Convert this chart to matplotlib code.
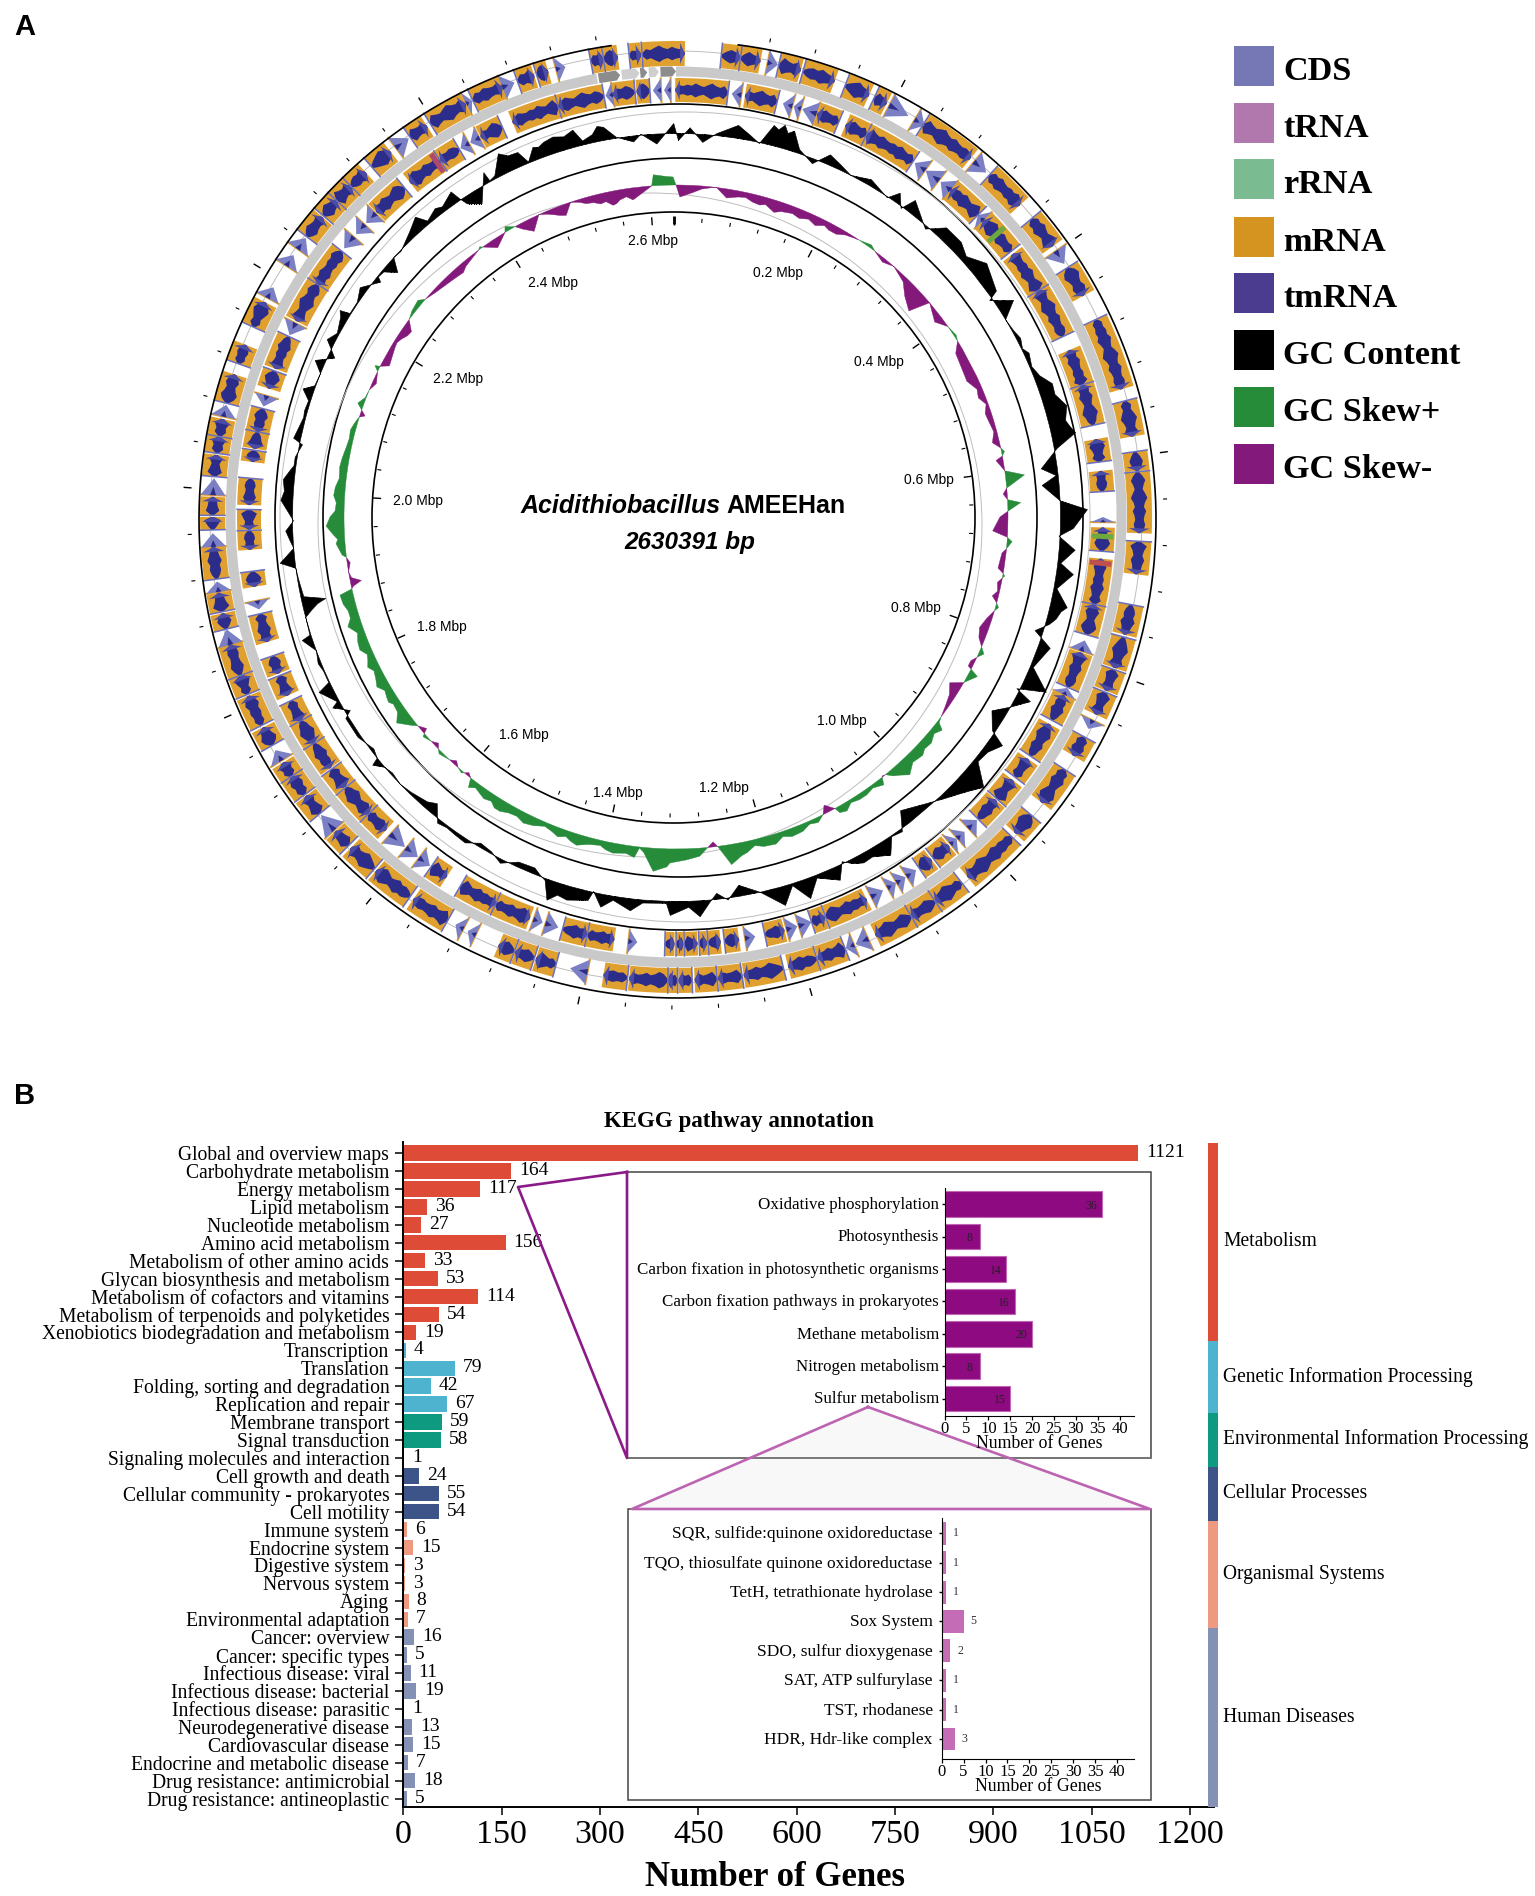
"""Figura: mapa circular do genoma (A) e anotacao KEGG (B)."""
import matplotlib
matplotlib.use("Agg")
import matplotlib.pyplot as plt
import numpy as np
from matplotlib.patches import Ellipse, Polygon, Rectangle
from matplotlib.transforms import ScaledTranslation

W, H = 1535, 1896
SANS = "Liberation Sans"
SERIF = "Liberation Serif"

# --- painel A: dados ---------------------------------------------------------
GENOME_BP = 2630391
TICK_STEP_MBP = 0.04

# blocos de genes (graus a partir do topo, sentido horario)
outer_start = [349.4, 351, 354.2, 355.8, 5.6, 8, 12.8, 15.9, 21.4, 25.3, 32.2, 42.5, 50, 57.5, 64.8,
               75.5, 81.9, 84.4, 93, 100.9, 105, 109.2, 112.2, 118.3, 123, 130, 133.6, 142, 146, 149.5,
               158.6, 162.3, 166.6, 171.8, 174.9, 178, 179.8, 181, 186, 195, 197.8, 200.4, 209.5, 215,
               220.6, 224.9, 230.2, 233.2, 236, 240.5, 243.3, 247.5, 250, 256, 258.2, 262.3, 268.4,
               270.2, 275, 277.9, 280, 284.2, 289.3, 294.2, 307.2, 310.5, 313, 315.5, 319, 325, 328,
               334, 340, 342.5]
outer_end = [351, 352.8, 355.7, 361.1, 8, 10.5, 15.6, 20, 24.6, 27, 39.4, 47.8, 54.3, 61.5, 74,
             80, 84.3, 92, 97.1, 104.7, 109, 112, 115.2, 121, 128, 133, 141, 146, 149.5, 154.5,
             162.2, 166, 171.6, 174.8, 177.7, 179.7, 181, 185.8, 189, 197.6, 200.3, 202.5, 214.5, 220.3,
             224.5, 227.3, 233, 236, 238, 243, 247.3, 250, 254, 258, 260.6, 266.3, 270,
             272.5, 277.7, 280, 282.2, 287.9, 291.8, 297.6, 310.3, 313, 315.5, 318, 322, 327.5, 333,
             338, 342.2, 344]
outer_thin_start = [11.4, 27.4, 31, 40, 55, 116, 155.5, 157.4, 191, 205.6, 207.3, 227.5, 238.3, 254,
                    260.7, 266.3, 272.7, 282.5, 298.2, 302.8, 305.3, 322.8, 333.1, 338, 345]
outer_thin_end = [12.7, 30.1, 32.4, 42, 56.9, 117.2, 157.2, 158.5, 193.2, 206.7, 208.4, 230, 239.8, 256,
                  262, 268, 274.8, 284, 299.7, 304.4, 307, 324.8, 333.9, 339.6, 346.2]

lower_start = [351.5, 354.7, 359.9, 9.3, 19.3, 23.4, 26.5, 40, 46, 52, 58, 67, 72, 79.5, 83.8, 91.4,
               95.6, 101.8, 108.5, 114.7, 119, 124.5, 128, 131.5, 140.3, 143.3, 153.5, 159.6, 165.3,
               171.5, 174, 175.8, 177.1, 179, 180.2, 188.3, 192, 200, 205, 212.5, 222.8, 226, 230.8,
               234, 238, 241.5, 245.3, 248.5, 253, 260.6, 265.6, 268.3, 271.6, 277.4, 279.2, 281.5,
               287.5, 290.3, 297.3, 303, 315.5, 321.5, 326.5, 332.8, 337.5, 344]
lower_end = [354.5, 356.5, 367, 13.7, 22.4, 26.5, 33.7, 45, 51.6, 58, 65, 72, 77.6, 82.6, 86.6, 94.6,
             101.8, 106, 113.5, 118.4, 124, 127.5, 131.3, 135, 143, 145.3, 159.5, 161.5, 168,
             173.5, 175.7, 176.9, 178.9, 180, 181.5, 192, 195.4, 205, 210.3, 215, 226, 230.7, 233.8,
             238, 241.5, 244.5, 248.2, 251, 256.9, 262.7, 268.2, 271, 275.2, 279, 281.5, 284.7,
             290, 295, 303, 308.5, 320.5, 326.5, 329.5, 336, 344, 350.3]
lower_thin_start = [356.9, 358.4, 7.5, 14.5, 16, 17.2, 34, 35.8, 38.3, 45, 90, 106.8, 113.6, 135.2,
                    137.5, 138.9, 145.8, 147.5, 149, 151, 161.5, 163.5, 169.3, 185.2, 196, 198.2,
                    215.2, 217.2, 219.4, 257.5, 285, 295.2, 309, 311.5, 313.5, 329.7, 331.2, 350.5]
lower_thin_end = [358, 359.3, 8.8, 15.8, 17, 19.2, 35.7, 38, 40, 46, 90.7, 108.3, 114.6, 136.8,
                  138.8, 140, 147.3, 148.9, 150.3, 152.8, 163.3, 165, 170.7, 186.4, 197.8, 199.5,
                  217, 219.2, 222, 258.7, 286.5, 297, 311, 313.2, 315.3, 331, 332.6, 351.5]

# genes em cinza no inicio da faixa central
band_start = [350, 353, 355.4, 356.5, 358]
band_end = [352.8, 355.3, 356.3, 357.8, 360]
band_shade = ["#8C8C8C", "#CFCFCF", "#8C8C8C", "#CFCFCF", "#8C8C8C"]

# GC content: angulo e altura (px) em relacao a linha de base
gc_deg = [0.3, 2, 4, 6, 9, 12.5, 14, 17, 18.5, 21, 23, 25, 27, 30, 33.4, 34.6, 36, 37, 40.8, 43, 46, 48,
          50.7, 54.7, 55.3, 57.2, 59, 65, 70.4, 74, 78, 79.7, 82.4, 83.7, 85, 87.5, 88.9, 91.6, 92.8,
          94.7, 96.8, 98.2, 100.6, 103, 106, 107.5, 109.3, 112.8, 115.3, 116.7, 117.5, 119.6, 121.5,
          124, 125, 129, 131.3, 136.5, 142.6, 144.3, 146, 147.6, 152.9, 154.3, 155.7, 158.7, 160.6,
          162.5, 164.3, 167.4, 170.4, 172.3, 173.9, 175, 176.6, 178.2, 180.9, 181.5, 185, 186.7, 189.4,
          191, 192.5, 193, 198.7, 199.9, 202, 204.6, 207, 211, 213, 215, 218, 219.9, 221.2, 226, 229.4,
          230.8, 231.2, 232.6, 235.4, 238.7, 239.4, 241, 241.5, 243.9, 244.6, 246.5, 249.7, 251.8,
          252.2, 254.9, 257, 258, 262.4, 263.4, 265.4, 268, 269.5, 272.5, 277, 277.7, 279, 281, 281.7,
          285, 287.6, 289, 290, 292, 293.5, 295, 297, 298.5, 300.8, 301.6, 302, 304, 306, 308.5, 308.9,
          311.3, 312.6, 314, 317, 319, 320, 323, 325.3, 325.8, 326.3, 328.2, 330.8, 331, 332, 333.9,
          335, 336.5, 337.4, 338.8, 342, 345, 346, 349.4, 351, 353.5, 354.7, 357, 359.6, 360.3]
gc_height = [-7, 6, -8, 2, 13, -1, 20, 20, 4, -5, 10, 5, 0, 6, -1, 10, -2, 13, -3, 12, 12, 6,
             17, 8, -3, 17, 0, 5, 15, 22, 24, 3, -16, -2, -17, 0, 27, 13, -1,
             16, 3, 17, 3, 17, 4, -8, 12, 3, 25, -3, 15, 0, -14,
             -3, 14, 4, 25, 4, -15, 3, 1, 16, 5, -2, 14, 3, 20,
             2, 19, 0, -11, 2, -6, 2, 16, 6, 14, 2, 3, 12, 4,
             13, -1, 9, 20, 2, -6, -5, 4, -4, 4, 3, 4, -11, -6, 0, 0,
             8, 0, -3, 3, 3, -5, 9, 2, 14, 1, 1, 0, 10,
             1, 0, -24, -3, 0, 15, 0, 7, -1, 12, 5, 2, 2, -3, 7,
             2, 2, 11, 1, 0, 10, -7, 8, 2, 7, 11, 1, 1, 7, -6, -1,
             -13, 0, -1, 7, 14, 3, 5, 12, 1, -7, -15, 11, 1, 3, 21,
             15, 14, 1, 13, 16, 17, 4, 13, 1, -6, 1, -10, 10, -7]
# pontos de detalhe lidos depois, juntados aos de cima na hora de desenhar
gc_detail_deg = [11, 14.8, 15.5, 16.2, 61, 62.5, 64, 67, 68.7, 72, 76, 77, 103.8, 105, 127, 133, 134.5,
                 150, 151.5, 196, 197.5, 200.8, 209, 216.5, 224, 228, 247.8, 255.8, 256.5, 259.5, 260.8,
                 266.5, 273.8, 275.5, 286, 310, 322, 339.5, 340.5, 343.5, 347.6, 348.5]
gc_detail_height = [5, 17, 23, 16, 1.5, 4, 1, 2, 6, 14, 17, 20, 12, 9, 6, 17, 11,
                    8, 9, 14, 12, -1, -2, 2, -2, -2, 3, -8, -15, -2, -1,
                    3, 9, 11, 3, -2, 8, 11, 14, 13, 8, 15]

# GC skew: positivo para fora (verde), negativo para dentro (roxo)
skew_deg = [0, 0.7, 3, 6, 7, 9, 11, 13.7, 16, 17.8, 20, 22.4, 28, 32.6, 33.5, 35.7, 36.8, 39, 41, 48.5,
            49.8, 53, 55, 57, 58, 59.7, 65, 70, 73, 76.8, 78, 78.7, 79.4, 80, 82, 83.1, 85, 86, 87, 87.6,
            89, 90, 92.5, 93.5, 94.2, 95.5, 96.3, 99, 99.8, 100.2, 100.6, 101.5, 103, 104, 105, 105.7,
            106.4, 108, 110, 111.7, 113, 114, 115, 116, 117, 117.9, 119.9, 121.2, 123, 125, 127, 128,
            128.7, 133, 135, 137.8, 140, 140.9, 141.5, 142.2, 144, 147, 151, 151.4, 152.8, 153.7, 155,
            160, 165, 168, 170.9, 172.8, 173.5, 174.5, 176, 178.2, 181, 181.5, 183.7, 185.5, 186.3, 187,
            190.7, 193, 196.9, 199, 201.6, 204.8, 208, 210.9, 213, 215.4, 217.5, 218.2, 219, 219.6, 220,
            221, 222, 223, 225, 225.7, 226.4, 227.5, 229, 229.3, 229.7, 231, 232, 233.6, 235, 236.5, 238,
            240.4, 243, 245, 247.2, 250, 251.5, 254, 256.9, 257.5, 257.9, 258.6, 259.4, 260.5, 262, 263,
            263.5, 265.5, 267, 268.5, 270, 272.4, 275, 278.5, 282, 285, 287.2, 287.5, 288, 288.8, 289.7,
            291, 292.5, 294, 296, 296.7, 297, 297.8, 301, 303, 305, 306.5, 308, 310, 311, 313, 315, 317.6,
            320, 323.5, 324, 324.4, 326.5, 329, 329.5, 331, 332, 333.6, 335.6, 338, 340, 341.5, 344,
            346.5, 348.6, 350, 352.3, 355, 355.8, 356.2, 358, 359.5, 360]
skew_height = [0, -12, -7, -1, 0, -9, -6, -8, -7, -12, -8, -9, -7, -1, 0, 3, 0, -4, 0, -21,
               0, -8, 0, 2, 0, -8, -11, -2, -5, -7, 0, 3, 0, -7, 0, 19, 0, -4, 0, 13,
               0, -8, -15, 0, 5, 0, -4, -6, 0, 2, 0, -4, -2, -6, 0, 3,
               0, -5, -9, -6, 0, 5, 0, -4, -4, 9, 0, -12, -6, -3, 0, 2,
               9, 8, 10, 16, 6, 0, -1, 7, 3, 5, 6, 0, -8, 0, 5,
               8, 9, 11, 20, 0, -5, 0, 8, 11, 14, 18, 23, 5, 1, 11,
               10, 5, 11, 6, 6, 8, 7, 11, 7, 7, 9, 0, -3, 0, 2,
               0, -4, 0, 3, 0, -4, 0, 3, 0, -5, 0, 6, 15, 8, 7, 9,
               12, 7, 8, 11, 7, 14, 9, 13, 0, -2, -11, -2, 0, -3, 0,
               4, 9, 11, 18, 14, 8, 10, 8, 5, 5, 1, 0, -5, 0, 6,
               1, 0, -4, 0, 5, 0, -8, -4, -5, -9, 0, 3, 5, 0, -3, -5, -7,
               -5, 0, 2, 0, -9, 0, 5, 0, -6, -13, 0, -6, -11, 0, -6,
               -10, -14, -10, -12, -3, 0, 11, 9, 8, 0]
skew_detail_deg = [4.5, 12.3, 15, 19, 21, 24, 25.5, 27, 29.5, 31, 44, 46, 67, 68.5, 71.5, 75, 130, 131.5,
                   134, 136, 139, 145.5, 148.5, 149.8, 156.5, 158, 161.5, 163, 166.5, 169, 188.5, 192,
                   195, 198, 200.3, 203, 206.5, 209.5, 212, 214.3, 216.5, 237.2, 239.2, 241.7, 244, 246,
                   248.5, 252.7, 255.3, 266.2, 269.2, 271, 273.6, 276.5, 280, 283.5, 286.2, 302, 304,
                   314, 316.3, 319, 321.5, 337, 339, 343, 345.3, 347.5, 349.3, 351.2]
skew_detail_height = [-3, -5, -9, -9, -7, -6, -9, -5, -7, -3, -5, -14, -5, -7, -6, -3, 5, 9,
                      11, 9, 10, 5, 3, 8, 3, 7, 5, 10, 6, 13, 8, 8,
                      7, 9, 9, 4, 10, 8, 11, 9, 5, 10, 7, 9, 11, 6,
                      10, 9, 12, 7, 16, 9, 11, 7, 7, 4, 3, -3, -8,
                      -4, -6, -8, -3, -3, -9, -3, -7, -9, -13, -8]

mbp_labels = ["0.2 Mbp", "0.4 Mbp", "0.6 Mbp", "0.8 Mbp", "1.0 Mbp", "1.2 Mbp", "1.4 Mbp",
              "1.6 Mbp", "1.8 Mbp", "2.0 Mbp", "2.2 Mbp", "2.4 Mbp", "2.6 Mbp"]
mbp_label_x = [778, 879, 929, 916, 842, 724, 618, 524, 442, 418, 458, 553, 653]
mbp_label_y = [273, 362, 480, 608, 721, 788, 793, 735, 627, 501, 379, 283, 241]

legend_names = ["CDS", "tRNA", "rRNA", "mRNA", "tmRNA", "GC Content", "GC Skew+", "GC Skew-"]
legend_colors = ["#7578B4", "#B078AC", "#7ABB92", "#D4941F", "#4B3C8F", "#000000", "#268C3A", "#84197C"]
legend_top = [46, 103, 159, 217, 273, 330, 387, 444]

# --- painel B ----------------------------------------------------------------
kegg_labels = ["Global and overview maps", "Carbohydrate metabolism", "Energy metabolism", "Lipid metabolism",
               "Nucleotide metabolism", "Amino acid metabolism", "Metabolism of other amino acids",
               "Glycan biosynthesis and metabolism", "Metabolism of cofactors and vitamins",
               "Metabolism of terpenoids and polyketides", "Xenobiotics biodegradation and metabolism",
               "Transcription", "Translation", "Folding, sorting and degradation", "Replication and repair",
               "Membrane transport", "Signal transduction", "Signaling molecules and interaction",
               "Cell growth and death", "Cellular community - prokaryotes", "Cell motility",
               "Immune system", "Endocrine system", "Digestive system", "Nervous system", "Aging",
               "Environmental adaptation", "Cancer: overview", "Cancer: specific types",
               "Infectious disease: viral", "Infectious disease: bacterial", "Infectious disease: parasitic",
               "Neurodegenerative disease", "Cardiovascular disease", "Endocrine and metabolic disease",
               "Drug resistance: antimicrobial", "Drug resistance: antineoplastic"]
kegg_values = [1121, 164, 117, 36, 27, 156, 33, 53, 114, 54, 19, 4, 79, 42, 67, 59, 58, 1, 24, 55, 54,
               6, 15, 3, 3, 8, 7, 16, 5, 11, 19, 1, 13, 15, 7, 18, 5]
group_names = ["Metabolism", "Genetic Information Processing", "Environmental Information Processing",
               "Cellular Processes", "Organismal Systems", "Human Diseases"]
group_sizes = [11, 4, 3, 3, 6, 10]
group_colors = ["#DE4C37", "#4DB3CE", "#0E9A80", "#3C5488", "#EE9A80", "#8491B4"]
# limites da barra lateral e posicao dos nomes (px)
group_edges = [1143, 1341, 1413, 1467, 1521, 1628, 1807]
group_text_y = [1242, 1377, 1439, 1494, 1574, 1718]
x_ticks = [0, 150, 300, 450, 600, 750, 900, 1050, 1200]

energy_labels = ["Oxidative phosphorylation", "Photosynthesis", "Carbon fixation in photosynthetic organisms",
                 "Carbon fixation pathways in prokaryotes", "Methane metabolism", "Nitrogen metabolism",
                 "Sulfur metabolism"]
energy_values = [36, 8, 14, 16, 20, 8, 15]
sulfur_labels = ["SQR, sulfide:quinone oxidoreductase", "TQO, thiosulfate quinone oxidoreductase",
                 "TetH, tetrathionate hydrolase", "Sox System", "SDO, sulfur dioxygenase",
                 "SAT, ATP sulfurylase", "TST, rhodanese", "HDR, Hdr-like complex"]
sulfur_values = [1, 1, 1, 5, 2, 1, 1, 3]
inset_ticks = list(range(0, 45, 5))

# perfil do miolo azul dos blocos (estilo, fracao da meia-altura da trilha)
CORE_PROFILE = np.array([0.34, 0.46, 0.38, 0.58, 0.42, 0.32, 0.50, 0.66, 0.46, 0.36, 0.54, 0.40])


def px_axes(fig, x0, y0, x1, y1, zorder=3, **kw):
    """Eixos posicionados em pixels da figura (origem no topo)."""
    ax = fig.add_axes([x0 / W, 1 - y1 / H, (x1 - x0) / W, (y1 - y0) / H], zorder=zorder, **kw)
    ax.patch.set_alpha(0)
    return ax


def ring_axes(fig, cx, cy, rmax=505):
    ax = px_axes(fig, cx - rmax, cy - rmax, cx + rmax, cy + rmax, zorder=2, projection="polar")
    ax.set_theta_zero_location("N")
    ax.set_theta_direction(-1)
    ax.set_rlim(0, rmax)
    ax.set_axis_off()
    return ax


def sorted_series(deg, height, extra_deg, extra_height):
    deg = np.r_[deg, extra_deg]
    height = np.r_[height, extra_height].astype(float)
    order = np.argsort(deg)
    return np.radians(deg[order]), height[order]


def draw_blocks(ax, starts, ends, r1, r2, direction):
    """Bloco laranja (mRNA) com miolo azul (tmRNA) e pontas em CDS."""
    starts, ends = np.asarray(starts, float), np.asarray(ends, float)
    ax.bar(np.radians((starts + ends) / 2), r2 - r1, np.radians(ends - starts), bottom=r1,
           color="#E0A030", linewidth=0, zorder=3)
    rm, half = (r1 + r2) / 2, (r2 - r1) / 2
    for k, (s, e) in enumerate(zip(starts, ends)):
        n = max(4, int(round((e - s) / 0.55)))
        th = np.linspace(s, e, n + 1)
        hw = CORE_PROFILE[(np.arange(n + 1) + 5 * k) % CORE_PROFILE.size] * half
        hw[0] = hw[-1] = 0.1 * half
        ax.fill(np.radians(np.r_[th, th[::-1]]), np.r_[rm + hw, (rm - hw)[::-1]],
                color="#2C2D8A", lw=0, zorder=4)
        tip = e if direction > 0 else s
        back = s if direction > 0 else e
        # seta em CDS na ponta do gene e borda no inicio
        ax.fill(np.radians([tip - direction * 0.6, tip, tip - direction * 0.6]),
                [r1 + 2, rm, r2 - 2], color="#4A4CA6", lw=0, zorder=5)
        ax.plot(np.radians([back, back]), [r1, r2], color="#6A70BE", lw=1.1, zorder=5)


def draw_thin(ax, starts, ends, r1, r2, direction):
    """Genes curtos: seta lilas com uma linha laranja."""
    rm = (r1 + r2) / 2
    for s, e in zip(starts, ends):
        tip, back = (e, s) if direction > 0 else (s, e)
        ax.fill(np.radians([back, tip, back]), [r1, rm, r2], color="#7B80C4", lw=0, zorder=4)
        ax.fill(np.radians([back, (back + tip) / 2, back]), [rm - 3, rm, rm + 3],
                color="#2C2D8A", lw=0, zorder=5)
        ax.plot(np.radians([back, back]), [r1, r2], color="#E0A030", lw=1.4, zorder=3)


def ring_line(ax, r, th1=0, th2=360, **kw):
    th = np.radians(np.linspace(th1, th2, 721))
    ax.plot(th, np.full(th.size, r), **kw)


def draw_panel_a(fig, ov):
    tracks = ring_axes(fig, 676, 517)
    ring_line(tracks, 466, color="#BDBDBD", lw=0.7, zorder=1)

    tracks.bar(np.radians((0 + 349.8) / 2), 10, np.radians(349.8), bottom=440.5,
               color="#C9C9C9", linewidth=0, zorder=2)
    for s, e, c in zip(band_start, band_end, band_shade):
        tracks.fill(np.radians([s, e - 0.5, e, e - 0.5, s]),
                    [440.5, 440.5, 445.5, 450.5, 450.5], color=c, lw=0, zorder=3)

    draw_blocks(tracks, outer_start, outer_end, 451, 476, 1)
    draw_blocks(tracks, lower_start, lower_end, 415, 439, -1)
    draw_thin(tracks, outer_thin_start, outer_thin_end, 451, 476, 1)
    draw_thin(tracks, lower_thin_start, lower_thin_end, 415, 439, -1)

    # marca de rRNA/tRNA nos blocos
    for th, col in [(48.6, "#6FA83C"), (92.6, "#6FA83C"), (96.2, "#C0504D"), (326.0, "#B0486C")]:
        tracks.bar(np.radians(th), 22, np.radians(0.7), bottom=416, color=col, linewidth=0, zorder=6)

    th, gc = sorted_series(gc_deg, gc_height, gc_detail_deg, gc_detail_height)
    tracks.fill_between(th, 384, 384 + gc, facecolor="black", edgecolor="black", lw=0.4, zorder=3)

    th, sk = sorted_series(skew_deg, skew_height, skew_detail_deg, skew_detail_height)
    for mask, col in [(sk >= 0, legend_colors[6]), (sk <= 0, legend_colors[7])]:
        tracks.fill_between(th, 332, 332 + sk, where=mask, interpolate=True,
                            facecolor=col, edgecolor=col, lw=0.3, zorder=3)

    # escala: marcas a cada 0.04 Mbp, maiores a cada 0.2 Mbp
    pos = np.arange(0, GENOME_BP / 1e6, TICK_STEP_MBP)
    deg = pos * 1e6 / GENOME_BP * 360
    major = np.arange(pos.size) % 5 == 0

    inner = ring_axes(fig, 673.5, 517.5)
    inner.vlines(np.radians(deg[~major]), 296, 300, color="black", lw=0.8)
    inner.vlines(np.radians(deg[major]), 293, 301, color="black", lw=1.0)
    inner.vlines(0, 294, 302, color="black", lw=2.0)

    outer = ring_axes(fig, 677.5, 519.5)
    ring_line(outer, 478.5, 7.3, 352, color="black", lw=1.2)
    keep = (deg > 7.3) & (deg < 352)
    outer.vlines(np.radians(deg[keep & ~major]), 486, 490, color="black", lw=0.8)
    outer.vlines(np.radians(deg[keep & major]), 487, 495, color="black", lw=1.0)

    # circulos nao concentricos, como no original
    for cx, cy, rx, ry, col, lw in [(673.5, 517.5, 301.5, 305.5, "black", 1.2),
                                    (680, 517.5, 357, 359.5, "black", 1.2),
                                    (679, 517, 404, 413, "black", 1.2),
                                    (685, 517, 405, 405, "#BDBDBD", 0.7),
                                    (650, 525, 332, 332, "#BDBDBD", 0.7)]:
        ov.add_patch(Ellipse((cx, cy), 2 * rx, 2 * ry, fill=False, edgecolor=col, linewidth=lw))

    for name, x, y in zip(mbp_labels, mbp_label_x, mbp_label_y):
        ov.text(x, y, name, family=SANS, fontsize=10, ha="center", va="center")

    ov.text(721, 506, "Acidithiobacillus", family=SANS, fontsize=18, weight="bold", style="italic",
            ha="right", va="center")
    ov.text(726, 506, "AMEEHan", family=SANS, fontsize=18, ha="left", va="center", weight="bold")
    ov.text(690, 543, "2630391 bp", family=SANS, fontsize=17.5, weight="bold", style="italic",
            ha="center", va="center")

    for name, col, top in zip(legend_names, legend_colors, legend_top):
        ov.add_patch(Rectangle((1234, top), 40, 39.5, facecolor=col, edgecolor="none"))
        ov.text(1283, top + 25, name, family=SERIF, fontsize=24.7, weight="bold", ha="left", va="center")


def draw_main_bars(fig, ov):
    ax = px_axes(fig, 403.4, 1142.4, 1214, 1807, zorder=1)
    colors = np.repeat(group_colors, group_sizes)
    y = np.arange(len(kegg_values))
    ax.barh(y, kegg_values, height=0.86, color=colors)
    ax.set_xlim(0, 810.6 / 0.6555)
    ax.set_ylim(36.47, -0.596)
    ax.set_yticks(y, kegg_labels, family=SERIF, fontsize=14.1)
    ax.set_xticks(x_ticks, [str(t) for t in x_ticks], family=SERIF, fontsize=24.5)
    ax.tick_params(axis="y", length=5.8, width=1.1, pad=4.3)
    ax.tick_params(axis="x", length=5.8, width=1.1, pad=3)
    for side in ("top", "right"):
        ax.spines[side].set_visible(False)
    ax.spines["left"].set_linewidth(1.4)
    ax.spines["bottom"].set_linewidth(1.4)
    for yi, v in zip(y, kegg_values):
        ax.text(v + 12, yi - 0.02, str(v), family=SERIF, fontsize=14, ha="left", va="center")
    ax.set_xlabel("Number of Genes", family=SERIF, fontsize=25, weight="bold")
    ax.xaxis.set_label_coords((775 - 403.4) / 810.6, -0.082)

    ov.text(739, 1122, "KEGG pathway annotation", family=SERIF, fontsize=16.5, weight="bold",
            ha="center", va="center")

    for i, (name, col) in enumerate(zip(group_names, group_colors)):
        ov.add_patch(Rectangle((1208, group_edges[i]), 10, group_edges[i + 1] - group_edges[i],
                               facecolor=col, edgecolor="none"))
        ov.text(1223, group_text_y[i], name, family=SERIF, fontsize=14.1, ha="left", va="center")


def draw_inset(fig, ax, labels, values, color, edge, height, xmax, ylim, pad, fs):
    y = np.arange(len(values))
    ax.barh(y, values, height=height, color=color, edgecolor=edge, linewidth=0.8)
    ax.set_xlim(0, xmax)
    ax.set_ylim(*ylim)
    ax.set_yticks(y, labels, family=SERIF, fontsize=fs)
    ax.set_xticks(inset_ticks, [str(t) for t in inset_ticks], family=SERIF, fontsize=12)
    ax.tick_params(axis="y", length=2.5, width=1, pad=pad)
    ax.tick_params(axis="x", length=3, width=0.9, pad=0.8)
    # rotulos um pouco acima do centro da barra, como no original
    up = ScaledTranslation(0, 0.8 / 72, fig.dpi_scale_trans)
    for lbl in ax.get_yticklabels():
        lbl.set_transform(lbl.get_transform() + up)
    for side in ("top", "right"):
        ax.spines[side].set_visible(False)
    ax.set_xlabel("Number of Genes", family=SERIF, fontsize=12.8, labelpad=-1.5)
    return y


def draw_insets(fig, ov):
    purple, pink = "#8B1A89", "#BC64B1"

    ov.add_patch(Rectangle((627, 1172), 524, 286, facecolor="white", edgecolor="#444444", linewidth=1.1))
    ov.add_patch(Polygon([(868, 1407), (632, 1509), (1150, 1509)], closed=True,
                         facecolor="#F8F8F8", edgecolor="none"))
    ov.plot([627, 1151], [1458, 1458], color="#777777", lw=1.4)
    ov.add_patch(Rectangle((628, 1509), 523, 291, facecolor="white", edgecolor="#444444", linewidth=1.1))
    ov.plot([868, 632, 1150, 868], [1407, 1509, 1509, 1407], color=pink, lw=1.9)
    ov.plot([627, 518, 627, 627], [1172, 1187, 1458, 1172], color=purple, lw=1.9)

    ax1 = px_axes(fig, 944.6, 1188, 1134, 1416)
    y = draw_inset(fig, ax1, energy_labels, energy_values, "#8E0A80", "#C066B4", 0.79, 189.4 / 4.375,
                   (6.54, -0.5), 1.5, 12.2)
    for yi, v in zip(y, energy_values):
        ax1.text(v - 2.4, yi + 0.05, str(v), family=SERIF, fontsize=8.5, ha="center", va="center",
                 color="#222222")

    ax2 = px_axes(fig, 941.7, 1518, 1134, 1759)
    y = draw_inset(fig, ax2, sulfur_labels, sulfur_values, "#C46CB6", "none", 0.78, 192.3 / 4.38,
                   (7.68, -0.52), 4, 12.5)
    for yi, v in zip(y, sulfur_values):
        ax2.text(v + 2.2, yi, str(v), family=SERIF, fontsize=8.5, ha="center", va="center",
                 color="#333333")


def main():
    fig = plt.figure(figsize=(W / 100, H / 100), dpi=100)
    ov = px_axes(fig, 0, 0, W, H, zorder=2)
    ov.set_xlim(0, W)
    ov.set_ylim(H, 0)
    ov.set_axis_off()

    draw_panel_a(fig, ov)
    draw_main_bars(fig, ov)
    draw_insets(fig, ov)

    ov.text(25, 27, "A", family=SANS, fontsize=21, weight="bold", ha="center", va="center")
    ov.text(25, 1096, "B", family=SANS, fontsize=21, weight="bold", ha="center", va="center")

    fig.savefig("out.png", dpi=100)
    plt.close(fig)


if __name__ == "__main__":
    main()
